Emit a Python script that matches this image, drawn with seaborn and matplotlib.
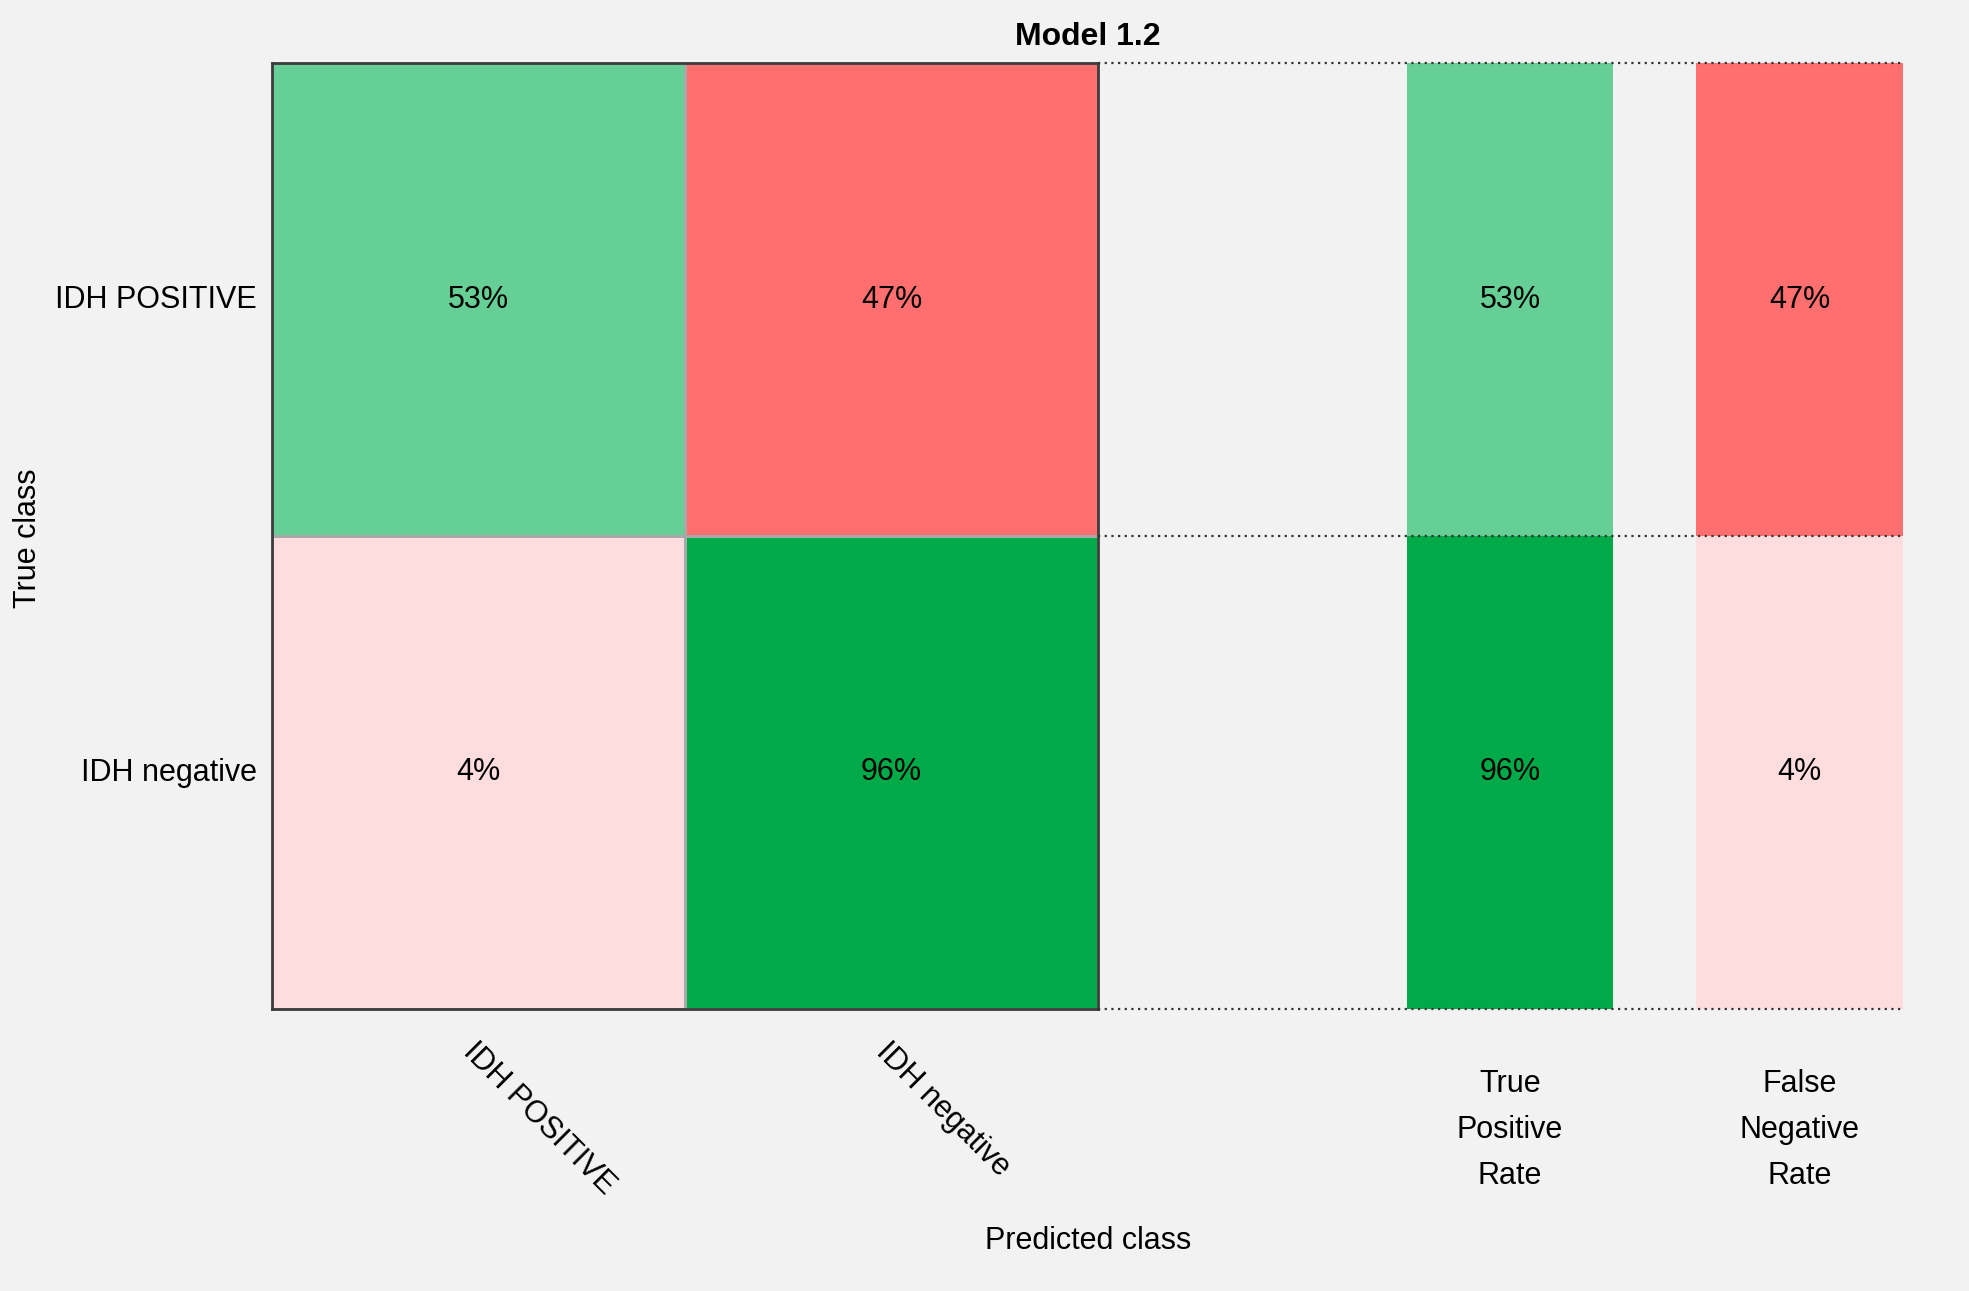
import numpy as np
import matplotlib.pyplot as plt
import seaborn as sns
from matplotlib.colors import LinearSegmentedColormap

# data
classes = ['IDH POSITIVE', 'IDH negative']
conf_pct = np.array([[53, 47],
                     [4, 96]])
tpr = [53, 96]
fnr = [47, 4]
summary_labels = ['True\nPositive\nRate', 'False\nNegative\nRate']
title = 'Model 1.2'

sns.set_style('white')
plt.rcParams['font.family'] = ['Liberation Sans', 'DejaVu Sans']
plt.rcParams['text.color'] = 'black'
plt.rcParams['xtick.color'] = 'black'
plt.rcParams['ytick.color'] = 'black'

bg = '#f2f2f2'
greens = LinearSegmentedColormap.from_list('g', ['#66CF95', '#00AA48'])
reds = LinearSegmentedColormap.from_list('r', ['#FFDCDE', '#FF6F6F'])

diag = np.eye(2, dtype=bool)
g_min, g_max = conf_pct[diag].min(), conf_pct[diag].max()
r_min, r_max = conf_pct[~diag].min(), conf_pct[~diag].max()

W, H = 1969, 1291
fig = plt.figure(figsize=(W / 100, H / 100), dpi=100, facecolor=bg)

top, bottom = 63, 1009


def box(x0, x1):
    return [x0 / W, 1 - bottom / H, (x1 - x0) / W, (bottom - top) / H]


fs = 22
kw = dict(fmt='', cbar=False, annot_kws={'size': fs, 'color': 'black'})

# main confusion matrix
ax = fig.add_axes(box(272, 1098))
ax.set_facecolor(bg)
labels = np.array([[f'{v}%' for v in row] for row in conf_pct])
sns.heatmap(conf_pct, mask=~diag, cmap=greens, vmin=g_min, vmax=g_max,
            annot=labels, linewidths=1, linecolor='#a8a8a8', ax=ax, **kw)
sns.heatmap(conf_pct, mask=diag, cmap=reds, vmin=r_min, vmax=r_max,
            annot=labels, linewidths=1, linecolor='#a8a8a8', ax=ax, **kw)
ax.set_xticklabels(classes, rotation=-45, ha='left', va='top',
                   rotation_mode='anchor', fontsize=fs)
ax.set_yticklabels(classes, rotation=0, fontsize=fs)
ax.tick_params(axis='x', length=0, pad=20)
ax.tick_params(axis='y', length=0, pad=11)
for s in ax.spines.values():
    s.set_visible(True)
    s.set_color('#3c3c3c')
    s.set_linewidth(2)

# summary columns
for x0, x1, vals, cmap, lo, hi, lab in [
        (1407, 1613, tpr, greens, g_min, g_max, summary_labels[0]),
        (1696, 1903, fnr, reds, r_min, r_max, summary_labels[1])]:
    axs = fig.add_axes(box(x0, x1))
    col = np.array(vals).reshape(2, 1)
    sns.heatmap(col, cmap=cmap, vmin=lo, vmax=hi,
                annot=np.array([[f'{v}%'] for v in vals]), linewidths=0,
                ax=axs, yticklabels=False, **kw)
    axs.set_xticklabels([lab], rotation=0, ha='center', va='top',
                        fontsize=fs, linespacing=1.7)
    axs.tick_params(axis='x', length=0, pad=43)

# dotted guide lines across the summary area
ax_dot = fig.add_axes(box(1098, 1903), zorder=5)
ax_dot.set_facecolor('none')
ax_dot.set_xlim(0, 1)
ax_dot.set_ylim(0, 2)
ax_dot.hlines([0, 1, 2], 0, 1, colors='#333333', linewidth=1.6,
              linestyles=(0, (1, 2)), clip_on=False)
ax_dot.axis('off')

fig.text(1088 / W, 1 - 37 / H, title, ha='center', va='center',
         fontsize=23, fontweight='bold')
fig.text(1088 / W, 1 - 1241 / H, 'Predicted class', ha='center', va='center',
         fontsize=fs)
fig.text(28 / W, 1 - 538 / H, 'True class', ha='center', va='center',
         rotation=90, fontsize=fs)

fig.savefig('out.png', dpi=100, facecolor=bg)
